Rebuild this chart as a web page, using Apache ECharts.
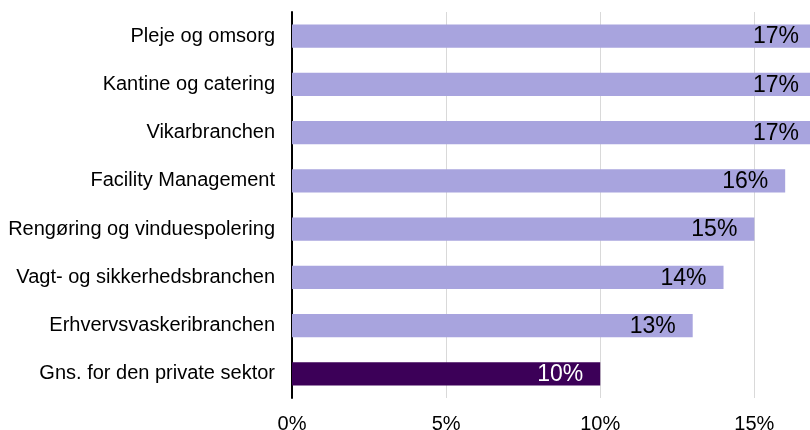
<!DOCTYPE html>
<html>
<head>
<meta charset="utf-8">
<script src="https://cdn.jsdelivr.net/npm/echarts@6/dist/echarts.min.js"></script>
<style>
  html, body { margin: 0; padding: 0; background: #fff; }
  #chart { width: 810px; height: 430px; }
</style>
</head>
<body>
<div id="chart"></div>
<script>
    var categories = [
        'Pleje og omsorg',
        'Kantine og catering',
        'Vikarbranchen',
        'Facility Management',
        'Rengøring og vinduespolering',
        'Vagt- og sikkerhedsbranchen',
        'Erhvervsvaskeribranchen',
        'Gns. for den private sektor'
    ];
    var values = [17, 17, 17, 16, 15, 14, 13, 10];
    var highlight = 'Gns. for den private sektor';

    var dom = document.getElementById('chart');
    var myChart = echarts.init(dom, null, { renderer: 'canvas' });

    var barData = categories.map(function (c, i) {
        var avg = c === highlight;
        return {
            value: values[i],
            itemStyle: { color: avg ? '#3c0058' : '#a8a4de' },
            label: { color: avg ? '#ffffff' : '#000000' }
        };
    });

    var option = {
        animation: false,
        textStyle: { fontFamily: 'Liberation Sans, Arial, sans-serif' },
        grid: {
            left: 292, width: 524, top: 12, bottom: 32,
            outerBoundsMode: 'none', containLabel: false
        },
        xAxis: {
            type: 'value',
            min: 0,
            max: 17,
            interval: 5,
            axisLine: { show: false },
            axisTick: { show: false },
            axisLabel: {
                formatter: '{value}%',
                fontSize: 20,
                color: '#000',
                margin: 16,
                showMaxLabel: false
            },
            splitLine: { lineStyle: { color: '#d9d9d9', width: 1 } }
        },
        yAxis: {
            type: 'category',
            data: categories,
            inverse: true,
            axisLine: { show: true, lineStyle: { color: '#000', width: 2 } },
            axisTick: { show: false },
            axisLabel: { fontSize: 20, color: '#000', margin: 17 }
        },
        series: [{
            type: 'bar',
            data: barData,
            barCategoryGap: '52%',
            label: {
                show: true,
                position: 'insideRight',
                distance: 17,
                fontSize: 23,
                offset: [0, 1],
                formatter: '{c}%'
            }
        }]
    };

    option && myChart.setOption(option);
</script>
</body>
</html>
